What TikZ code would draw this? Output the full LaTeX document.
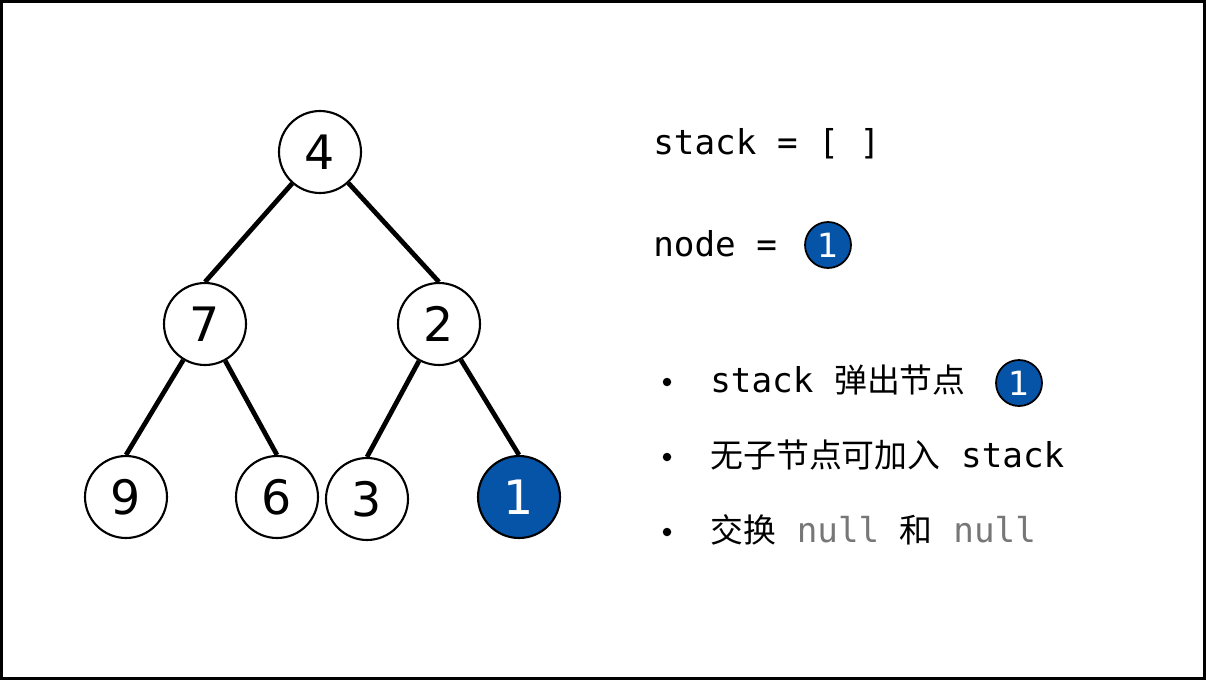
\documentclass[tikz,border=0pt]{standalone}
\usepackage{fontspec}
\setmonofont{DejaVu Sans Mono}
\newfontfamily\cjk[Scale=0.96]{Noto Sans CJK SC}
\newfontfamily\digitfont{DejaVu Sans}
\definecolor{nodeblue}{HTML}{0654A8}
\definecolor{nullgray}{HTML}{777777}
\begin{document}
\begin{tikzpicture}[x=0.02cm,y=-0.02cm,
  tnode/.style={circle,draw=black,line width=1.2pt,minimum size=1.64cm,inner sep=0pt,font=\digitfont\fontsize{27}{27}\selectfont},
  hot/.style={fill=nodeblue,text=white},
  small/.style={circle,draw=black,line width=1pt,minimum size=0.92cm,inner sep=0pt,fill=nodeblue,text=white,font=\digitfont\fontsize{19}{19}\selectfont},
  edge/.style={line width=2.7pt},
  code/.style={anchor=base west,inner sep=0pt,font=\ttfamily\fontsize{19.5}{19.5}\selectfont},
  bullet/.style={circle,fill=black,inner sep=0pt,minimum size=0.17cm}]
\useasboundingbox (0,0) rectangle (1206,680);
\draw[line width=1.6pt] (1.5,1.5) rectangle (1204.5,678.5);
% tree
\node[tnode] (n4) at (320,152) {4};
\node[tnode] (n7) at (205,324) {7};
\node[tnode] (n2) at (439,324) {2};
\node[tnode] (n9) at (126,497) {9};
\node[tnode] (n6) at (277,497) {6};
\node[tnode] (n3) at (367,499) {3};
\node[tnode,hot] (n1) at (519,497) {1};
\draw[edge] (n4) -- (n7.north);
\draw[edge] (n4) -- (n2.north);
\draw[edge] (n7) -- (n9.north);
\draw[edge] (n7) -- (n6.north);
\draw[edge] (n2) -- (n3.north);
\draw[edge] (n2) -- (n1.north);
% right side text
\node[code] (t1) at (653,154) {stack = [ ]};
\node[code] (t2) at (653,256) {node =};
\node[small] (c1) at (828,245) {1};
\node[bullet] (b1) at (667,382) {};
\node[bullet] (b2) at (667,457) {};
\node[bullet] (b3) at (667,532) {};
\node[code] (l1) at (710,392) {stack {\cjk 弹出节点}};
\node[small] (c2) at (1019,383) {1};
\node[code] (l2) at (710,467) {{\cjk 无子节点可加入} stack};
\node[code] (l3) at (710,542) {{\cjk 交换} \textcolor{nullgray}{null} {\cjk 和} \textcolor{nullgray}{null}};
\end{tikzpicture}
\end{document}
